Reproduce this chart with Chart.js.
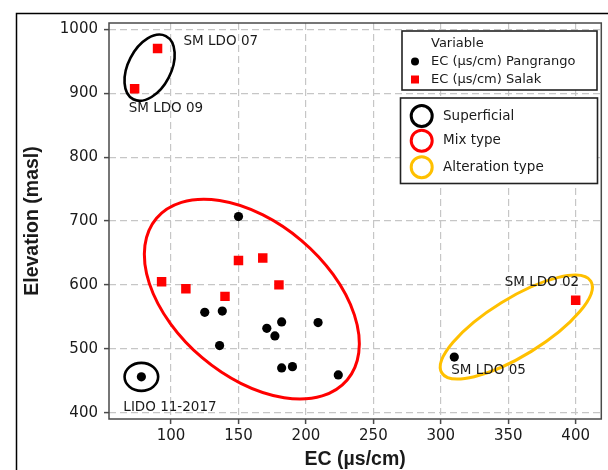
<!DOCTYPE html>
<html><head><meta charset="utf-8">
<script src="https://cdn.jsdelivr.net/npm/chart.js@4/dist/chart.umd.min.js"></script>
<style>html,body{margin:0;padding:0;background:#fff}#wrap{width:608px;height:470px;position:relative}</style>
</head><body><div id="wrap"><canvas id="c" width="608" height="470"></canvas></div>
<script>
// ---- data ----
const pangrangoEC   = [150, 125, 138, 136, 171, 177, 182, 182, 190, 209, 224, 310, 78];
const pangrangoElev = [707, 557, 559, 505, 532, 520, 542, 470, 472, 541, 459, 487, 456];
const salakEC   = [90, 73, 93, 111, 140, 150, 168, 180, 400];
const salakElev = [970, 907, 605, 594, 582, 638, 642, 600, 576];
const xTicks = [100, 150, 200, 250, 300, 350, 400];
const yTicks = [400, 500, 600, 700, 800, 900, 1000];
const seriesNames = ['EC (µs/cm) Pangrango', 'EC (µs/cm) Salak'];
const groupNames = ['Superficial', 'Mix type', 'Alteration type'];
const groupColors = ['#000000', '#ff0000', '#ffc000'];
const sampleLabels = ['SM LDO 07', 'SM LDO 09', 'LIDO 11-2017', 'SM LDO 02', 'SM LDO 05'];
const sampleLabelAt = [[90, 970], [73, 907], [78, 456], [400, 576], [310, 487]];
// group ellipses: centre in data units
const groupCentres = [[84.1, 940], [78, 456], [159.9, 577.7], [356, 534]];

// ---- styling (pixels) ----
const ellipseStyle = [
  {rx: 35.5, ry: 21.5, rot: -62.7, color: groupColors[0], w: 2.6},
  {rx: 16.8, ry: 14.0, rot: 0,     color: groupColors[0], w: 2.6},
  {rx: 125,  ry: 76.8, rot: 40.3,  color: groupColors[1], w: 3},
  {rx: 87.5, ry: 28.6, rot: -31.6, color: groupColors[2], w: 3}
];
const labelOffsets = [[26, -7], [-6, 20], [-18, 31], [-71, -18], [-3, 13]];
const TXT = '#1a1a1a';

const annot = {
  id: 'annot',
  beforeDraw(chart) {
    const ctx = chart.ctx;
    ctx.save();
    ctx.fillStyle = '#fff'; ctx.fillRect(0, 0, chart.width, chart.height);
    ctx.strokeStyle = '#000'; ctx.lineWidth = 1.5;
    ctx.beginPath(); ctx.moveTo(16.5, 480); ctx.lineTo(16.5, 13.5); ctx.lineTo(620, 13.5); ctx.stroke();
    ctx.restore();
  },
  beforeDatasetsDraw(chart) {
    const ctx = chart.ctx, xs = chart.scales.x, ys = chart.scales.y;
    ctx.save();
    groupCentres.forEach((c, i) => {
      const e = ellipseStyle[i];
      ctx.beginPath();
      ctx.ellipse(xs.getPixelForValue(c[0]), ys.getPixelForValue(c[1]), e.rx, e.ry, e.rot * Math.PI / 180, 0, 2 * Math.PI);
      ctx.strokeStyle = e.color; ctx.lineWidth = e.w; ctx.stroke();
    });
    ctx.restore();
  },
  afterDatasetsDraw(chart) {
    const ctx = chart.ctx, xs = chart.scales.x, ys = chart.scales.y, a = chart.chartArea;
    ctx.save();
    // plot frame
    ctx.strokeStyle = '#4a4a4a'; ctx.lineWidth = 1.5;
    ctx.strokeRect(a.left, a.top, a.right - a.left, a.bottom - a.top);
    // sample labels
    ctx.fillStyle = TXT; ctx.font = '13.5px "DejaVu Sans"'; ctx.textBaseline = 'middle'; ctx.textAlign = 'left';
    sampleLabels.forEach((t, i) => {
      const p = sampleLabelAt[i], o = labelOffsets[i];
      ctx.fillText(t, xs.getPixelForValue(p[0]) + o[0], ys.getPixelForValue(p[1]) + o[1]);
    });
    // legend 1
    ctx.lineWidth = 1.6; ctx.strokeStyle = '#222';
    ctx.fillStyle = '#fff';
    ctx.fillRect(402, 31, 195, 59); ctx.strokeRect(402, 31, 195, 59);
    ctx.fillStyle = TXT; ctx.font = '13px "DejaVu Sans"';
    ctx.fillText('Variable', 431, 43.5);
    ctx.fillText(seriesNames[0], 431, 61.5);
    ctx.fillText(seriesNames[1], 431, 79.5);
    ctx.beginPath(); ctx.arc(415, 61.5, 4, 0, 2 * Math.PI); ctx.fillStyle = '#000'; ctx.fill();
    ctx.fillStyle = '#ff0000'; ctx.fillRect(411, 75.5, 8, 8);
    // legend 2
    ctx.fillStyle = '#fff';
    ctx.fillRect(400.5, 98, 197, 85.5); ctx.strokeRect(400.5, 98, 197, 85.5);
    ctx.font = '13.5px "DejaVu Sans"';
    const ys2 = [116, 140.7, 167.2];
    groupNames.forEach((g, i) => {
      ctx.beginPath(); ctx.arc(421.7, ys2[i], 10.5, 0, 2 * Math.PI);
      ctx.strokeStyle = groupColors[i]; ctx.lineWidth = 3; ctx.stroke();
      ctx.fillStyle = TXT; ctx.fillText(g, 443, ys2[i]);
    });
    ctx.restore();
  }
};

const gridCommon = {
  color: '#c6c6c6', lineWidth: 1.2,
  drawTicks: true, tickLength: 5, tickColor: '#4a4a4a', tickWidth: 1.5, tickBorderDash: []
};
const borderCommon = {display: false, dash: [7, 4]};

new Chart(document.getElementById('c'), {
  type: 'scatter',
  data: {
    datasets: [
      {label: seriesNames[0], data: pangrangoEC.map((x, i) => ({x, y: pangrangoElev[i]})),
       pointStyle: 'circle', pointRadius: 4.6, backgroundColor: '#000', borderWidth: 0},
      {label: seriesNames[1], data: salakEC.map((x, i) => ({x, y: salakElev[i]})),
       pointStyle: 'rect', pointRadius: 6.7, backgroundColor: '#ff0000', borderWidth: 0}
    ]
  },
  options: {
    responsive: false, devicePixelRatio: 1, animation: false,
    layout: {padding: {left: 16, top: 23, right: 1, bottom: 0}},
    plugins: {legend: {display: false}, tooltip: {enabled: false}},
    scales: {
      x: {
        type: 'linear', min: 54, max: 419,
        afterFit: s => { s.height = 51; },
        afterBuildTicks: s => { s.ticks = xTicks.map(v => ({value: v})); },
        ticks: {color: TXT, font: {family: 'DejaVu Sans', size: 15}, padding: 3, includeBounds: false,
                callback: v => String(v)},
        grid: gridCommon, border: borderCommon,
        title: {display: true, text: 'EC (µs/cm)', color: TXT,
                font: {family: 'Liberation Sans', size: 19.5, weight: 'bold', lineHeight: 1.1}, padding: {top: 0, bottom: 0}}
      },
      y: {
        type: 'linear', min: 390, max: 1010,
        afterFit: s => { s.width = 93; },
        afterBuildTicks: s => { s.ticks = yTicks.map(v => ({value: v})); },
        ticks: {color: TXT, font: {family: 'DejaVu Sans', size: 15}, padding: 6, includeBounds: false,
                callback: v => String(v)},
        grid: gridCommon, border: borderCommon,
        title: {display: true, text: 'Elevation (masl)', color: TXT,
                font: {family: 'Liberation Sans', size: 19.5, weight: 'bold', lineHeight: 1.2}, padding: {top: 5, bottom: 0}}
      }
    }
  },
  plugins: [annot]
});
</script></body></html>
